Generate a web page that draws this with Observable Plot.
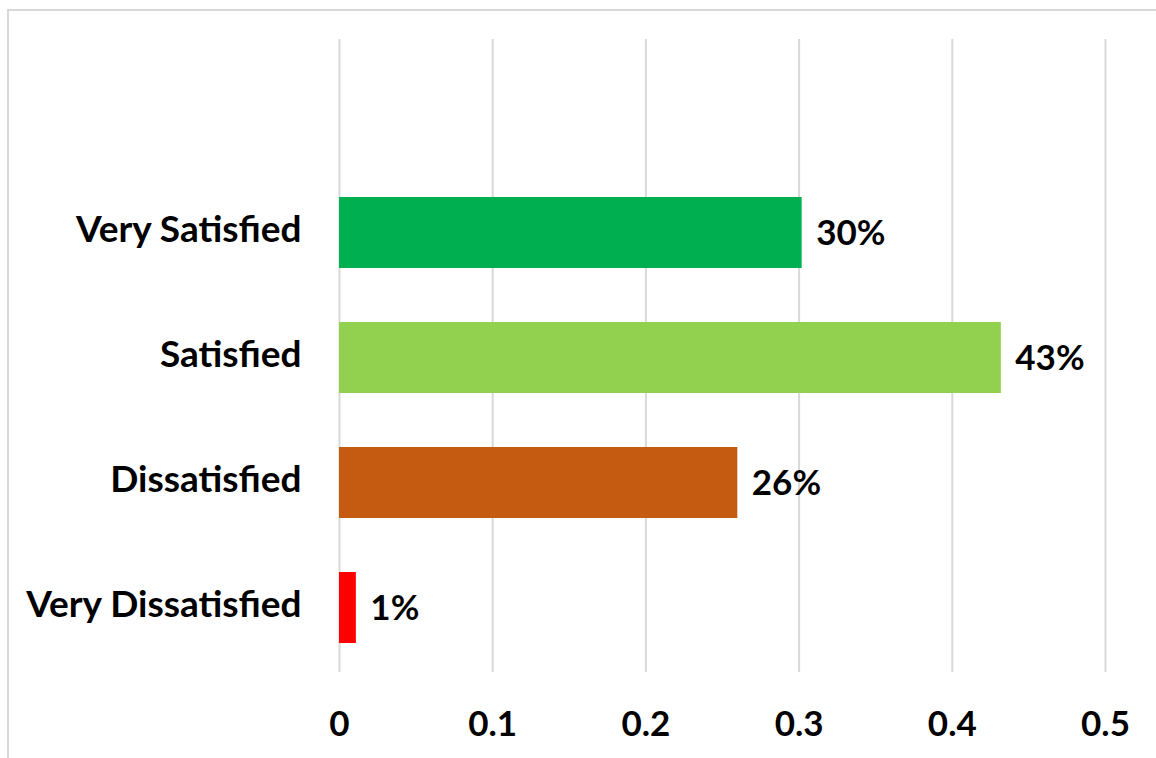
<!DOCTYPE html>
<html>
<head>
<meta charset="utf-8">
<script src="https://cdn.jsdelivr.net/npm/d3@7"></script>
<script src="https://cdn.jsdelivr.net/npm/@observablehq/plot@0.6"></script>
<style>
  html, body { margin: 0; padding: 0; background: #fff; overflow: hidden; }
  #frame { position: absolute; left: 7px; top: 9px; width: 1170px; height: 780px; border: 2px solid #d9d9d9; box-sizing: border-box; }
  #chart { position: absolute; left: 0; top: 0; }
  #chart svg { font-family: Lato, "Open Sans", sans-serif; }
</style>
</head>
<body>
<div id="frame"></div>
<div id="chart"></div>
<script>
const categories = ["Very Satisfied", "Satisfied", "Dissatisfied", "Very Dissatisfied"];
const values = [0.302, 0.432, 0.26, 0.011];
const colors = ["#00B050", "#92D050", "#C55A11", "#FF0000"];
const xTicks = [0, 0.1, 0.2, 0.3, 0.4, 0.5];

const data = categories.map((c, i) => ({category: c, value: values[i], color: colors[i]}));

const chart = Plot.plot({
  width: 1156,
  height: 758,
  marginLeft: 339,
  marginRight: 51,
  marginTop: 39,
  marginBottom: 86,
  style: {fontFamily: "Lato, 'Open Sans', sans-serif", background: "transparent"},
  x: {domain: [0, 0.5], label: null},
  y: {domain: categories, range: [170, 670], paddingInner: 0.43, paddingOuter: 0.215, label: null},
  marks: [
    Plot.gridX(xTicks, {stroke: "#d9d9d9", strokeOpacity: 1, strokeWidth: 2}),
    Plot.barX(data, {x1: 0, x2: "value", y: "category", fill: "color"}),
    Plot.text(data, {x: "value", y: "category", text: d => d3.format(".0%")(d.value), dx: 14, dy: 1, textAnchor: "start", fontSize: 35, fontWeight: "bold", fill: "#000"}),
    Plot.axisX({ticks: xTicks, tickSize: 0, tickPadding: 39, tickFormat: d => String(d), fontSize: 35, fontWeight: "bold", color: "#000", label: null}),
    Plot.axisY({tickSize: 0, tickPadding: 38, dy: -3, fontSize: 37, fontWeight: "bold", color: "#000", label: null})
  ]
});
document.getElementById("chart").appendChild(chart);
</script>
</body>
</html>
